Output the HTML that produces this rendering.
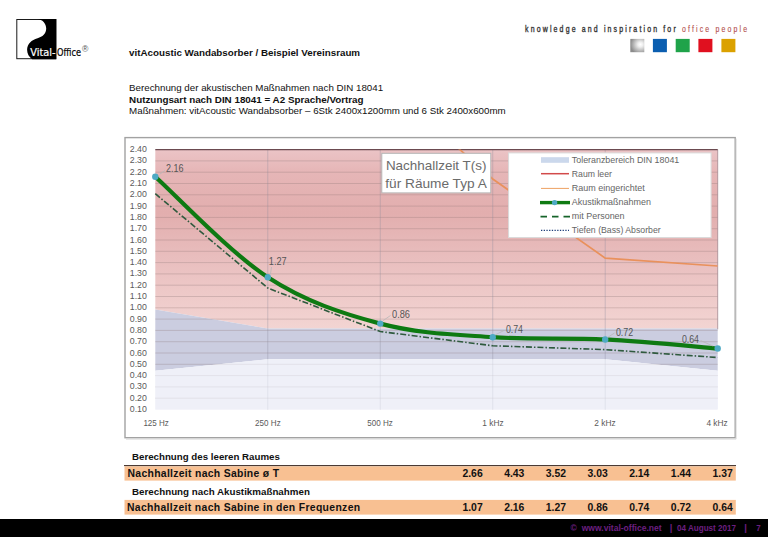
<!DOCTYPE html>
<html lang="de"><head><meta charset="utf-8"><title>vitAcoustic Wandabsorber / Beispiel Vereinsraum</title>
<style>
html,body{margin:0;padding:0;background:#fff;}
body{width:768px;height:543px;position:relative;overflow:hidden;}
svg{position:absolute;left:0;top:0;display:block;font-family:"Liberation Sans",sans-serif;}
</style></head><body>
<svg width="768" height="543" viewBox="0 0 768 543">
<g id="logo">
<rect x="16.8" y="19.5" width="39" height="39.2" fill="#fff" stroke="#1a1a1a" stroke-width="1"/>
<path d="M37.2,19 C42.5,19.4 46.2,23.5 46.2,28.6 C46.2,33.8 42.5,37 37.6,38.3 C31.5,40 27.2,44 27.1,49.8 C27.1,53.8 29,57 32.2,59.2 H56.3 V19 Z" fill="#000"/>
<text x="30.3" y="55.8" font-size="10.6" fill="#fff" textLength="25.3" lengthAdjust="spacingAndGlyphs" font-family="DejaVu Sans Condensed, DejaVu Sans, sans-serif" font-stretch="condensed" stroke="#fff" stroke-width="0.2">Vital-</text>
<text x="57.1" y="55.8" font-size="10.6" fill="#000" textLength="23.9" lengthAdjust="spacingAndGlyphs" font-family="DejaVu Sans Condensed, DejaVu Sans, sans-serif" font-stretch="condensed" stroke="#000" stroke-width="0.2">Office</text>
<text x="82" y="52.2" font-size="8.6" fill="#555">®</text>
</g>
<g transform="translate(525.1,0) scale(0.84,1)"><text x="0" y="31.8" font-size="8.3" fill="#333" stroke="#333" stroke-width="0.32" textLength="264.2" lengthAdjust="spacing">knowledge and inspiration for <tspan fill="#b04a48" stroke="#c06060" stroke-width="0.12">office people</tspan></text></g>
<defs><radialGradient id="silver" cx="0.72" cy="0.42" r="0.72"><stop offset="0" stop-color="#ffffff"/><stop offset="0.25" stop-color="#efefef"/><stop offset="1" stop-color="#8c8c8c"/></radialGradient></defs>
<rect x="630.3" y="38.9" width="14" height="13.3" fill="url(#silver)"/>
<rect x="652.9" y="38.9" width="14" height="13.3" fill="#0b5eb0"/>
<rect x="675.7" y="38.9" width="14" height="13.3" fill="#1fa34a"/>
<rect x="698.4" y="38.9" width="14" height="13.3" fill="#e0101f"/>
<rect x="721.4" y="38.9" width="14" height="13.3" fill="#dba100"/>
<text x="129.1" y="55.6" font-size="9.85" fill="#111" font-weight="bold" textLength="231" lengthAdjust="spacingAndGlyphs">vitAcoustic Wandabsorber / Beispiel Vereinsraum</text>
<text x="129.1" y="90.9" font-size="9.8" fill="#111" textLength="254" lengthAdjust="spacingAndGlyphs">Berechnung der akustischen Maßnahmen nach DIN 18041</text>
<text x="129.1" y="102.6" font-size="9.9" fill="#111" font-weight="bold" textLength="234.5" lengthAdjust="spacingAndGlyphs">Nutzungsart nach DIN 18041 = A2 Sprache/Vortrag</text>
<text x="129.1" y="114.4" font-size="9.8" fill="#111" textLength="376.6" lengthAdjust="spacingAndGlyphs">Maßnahmen: vitAcoustic Wandabsorber – 6Stk 2400x1200mm und 6 Stk 2400x600mm</text>
<defs>
<linearGradient id="pink" x1="0" y1="149.6" x2="0" y2="330.4" gradientUnits="userSpaceOnUse">
<stop offset="0" stop-color="#ebc4c6"/>
<stop offset="0.12" stop-color="#e6b6b7"/>
<stop offset="0.35" stop-color="#e2aeae"/>
<stop offset="0.62" stop-color="#e9bfbf"/>
<stop offset="1" stop-color="#f3d5d3"/>
</linearGradient>
<clipPath id="plot"><rect x="155.3" y="149.6" width="562.4" height="259.9"/></clipPath>
</defs>
<rect x="125" y="137.6" width="610.2" height="300.1" fill="#fff" stroke="#a2a2a2" stroke-width="1.4"/>
<path d="M126,439.1 H736.1 V138.6" fill="none" stroke="#d4d4d4" stroke-width="0.9"/>
<path d="M155.3,149.6 L717.7,149.6 L717.7,328.59 L605.22,328.59 L492.74,328.59 L380.26,328.59 L267.78,328.59 L155.3,309.38 Z" fill="url(#pink)"/>
<path d="M155.3,309.38 L267.78,328.59 L380.26,328.59 L492.74,328.59 L605.22,328.59 L717.7,328.59 L717.7,370.85 L605.22,359.33 L492.74,359.33 L380.26,359.33 L267.78,359.33 L155.3,370.85 Z" fill="#cbcde0"/>
<path d="M155.3,409.5 L155.3,370.85 L267.78,359.33 L380.26,359.33 L492.74,359.33 L605.22,359.33 L717.7,370.85 L717.7,409.5 Z" fill="#eff0f8"/>
<g stroke="#86706e" stroke-opacity="0.28" stroke-width="1"><line x1="155.3" x2="717.7" y1="398.2" y2="398.2"/><line x1="155.3" x2="717.7" y1="386.9" y2="386.9"/><line x1="155.3" x2="717.7" y1="375.6" y2="375.6"/><line x1="155.3" x2="717.7" y1="364.3" y2="364.3"/><line x1="155.3" x2="717.7" y1="353" y2="353"/><line x1="155.3" x2="717.7" y1="341.7" y2="341.7"/><line x1="155.3" x2="717.7" y1="330.4" y2="330.4"/><line x1="155.3" x2="717.7" y1="319.1" y2="319.1"/><line x1="155.3" x2="717.7" y1="307.8" y2="307.8"/><line x1="155.3" x2="717.7" y1="296.5" y2="296.5"/><line x1="155.3" x2="717.7" y1="285.2" y2="285.2"/><line x1="155.3" x2="717.7" y1="273.9" y2="273.9"/><line x1="155.3" x2="717.7" y1="262.6" y2="262.6"/><line x1="155.3" x2="717.7" y1="251.3" y2="251.3"/><line x1="155.3" x2="717.7" y1="240" y2="240"/><line x1="155.3" x2="717.7" y1="228.7" y2="228.7"/><line x1="155.3" x2="717.7" y1="217.4" y2="217.4"/><line x1="155.3" x2="717.7" y1="206.1" y2="206.1"/><line x1="155.3" x2="717.7" y1="194.8" y2="194.8"/><line x1="155.3" x2="717.7" y1="183.5" y2="183.5"/><line x1="155.3" x2="717.7" y1="172.2" y2="172.2"/><line x1="155.3" x2="717.7" y1="160.9" y2="160.9"/></g>
<g stroke="#8a8a9a" stroke-opacity="0.35" stroke-width="1"><line x1="267.78" x2="267.78" y1="149.6" y2="409.5"/><line x1="380.26" x2="380.26" y1="149.6" y2="409.5"/><line x1="492.74" x2="492.74" y1="149.6" y2="409.5"/><line x1="605.22" x2="605.22" y1="149.6" y2="409.5"/></g>
<path d="M155.3,409.5 L155.3,370.85 L267.78,359.33 L380.26,359.33 L492.74,359.33 L605.22,359.33 L717.7,370.85 L717.7,409.5 Z" fill="#eff0f8" fill-opacity="0.6"/>
<line x1="717.7" x2="717.7" y1="149.6" y2="329.27" stroke="#9a8088" stroke-width="0.9" stroke-opacity="0.8"/>
<line x1="155.3" x2="717.7" y1="149.6" y2="149.6" stroke="#6b4a50" stroke-width="1.3"/>
<g clip-path="url(#plot)"><polyline points="155.3,-79.79 267.78,23.04 380.26,78.41 492.74,178.98 605.22,258.08 717.7,265.99" fill="none" stroke="#e9915c" stroke-width="1.7"/></g>
<polyline points="155.3,193.67 267.78,288.02 380.26,331.53 492.74,345.77 605.22,349.61 717.7,357.52" fill="none" stroke="#2f5a3e" stroke-width="1.6" stroke-dasharray="6 2 1.5 2"/>
<path d="M155.3,176.72 C174.05,193.48 230.29,252.81 267.78,277.29 C305.27,301.77 342.77,313.64 380.26,323.62 C417.75,333.6 455.25,334.54 492.74,337.18 C530.23,339.82 567.73,337.56 605.22,339.44 C642.71,341.32 698.95,346.97 717.7,348.48" fill="none" stroke="#0e7a12" stroke-width="4.2" stroke-linecap="round"/>
<g fill="#4eaac4"><circle cx="155.3" cy="176.72" r="3.2"/><circle cx="267.78" cy="277.29" r="3.2"/><circle cx="380.26" cy="323.62" r="3.2"/><circle cx="492.74" cy="337.18" r="3.2"/><circle cx="605.22" cy="339.44" r="3.2"/><circle cx="717.7" cy="348.48" r="3.2"/></g>
<g font-size="9.2" fill="#5a5a5a" text-anchor="end"><text x="146.9" y="412" textLength="17.1" lengthAdjust="spacingAndGlyphs">0.10</text><text x="146.9" y="400.7" textLength="17.1" lengthAdjust="spacingAndGlyphs">0.20</text><text x="146.9" y="389.4" textLength="17.1" lengthAdjust="spacingAndGlyphs">0.30</text><text x="146.9" y="378.1" textLength="17.1" lengthAdjust="spacingAndGlyphs">0.40</text><text x="146.9" y="366.8" textLength="17.1" lengthAdjust="spacingAndGlyphs">0.50</text><text x="146.9" y="355.5" textLength="17.1" lengthAdjust="spacingAndGlyphs">0.60</text><text x="146.9" y="344.2" textLength="17.1" lengthAdjust="spacingAndGlyphs">0.70</text><text x="146.9" y="332.9" textLength="17.1" lengthAdjust="spacingAndGlyphs">0.80</text><text x="146.9" y="321.6" textLength="17.1" lengthAdjust="spacingAndGlyphs">0.90</text><text x="146.9" y="310.3" textLength="17.1" lengthAdjust="spacingAndGlyphs">1.00</text><text x="146.9" y="299" textLength="17.1" lengthAdjust="spacingAndGlyphs">1.10</text><text x="146.9" y="287.7" textLength="17.1" lengthAdjust="spacingAndGlyphs">1.20</text><text x="146.9" y="276.4" textLength="17.1" lengthAdjust="spacingAndGlyphs">1.30</text><text x="146.9" y="265.1" textLength="17.1" lengthAdjust="spacingAndGlyphs">1.40</text><text x="146.9" y="253.8" textLength="17.1" lengthAdjust="spacingAndGlyphs">1.50</text><text x="146.9" y="242.5" textLength="17.1" lengthAdjust="spacingAndGlyphs">1.60</text><text x="146.9" y="231.2" textLength="17.1" lengthAdjust="spacingAndGlyphs">1.70</text><text x="146.9" y="219.9" textLength="17.1" lengthAdjust="spacingAndGlyphs">1.80</text><text x="146.9" y="208.6" textLength="17.1" lengthAdjust="spacingAndGlyphs">1.90</text><text x="146.9" y="197.3" textLength="17.1" lengthAdjust="spacingAndGlyphs">2.00</text><text x="146.9" y="186" textLength="17.1" lengthAdjust="spacingAndGlyphs">2.10</text><text x="146.9" y="174.7" textLength="17.1" lengthAdjust="spacingAndGlyphs">2.20</text><text x="146.9" y="163.4" textLength="17.1" lengthAdjust="spacingAndGlyphs">2.30</text><text x="146.9" y="152.1" textLength="17.1" lengthAdjust="spacingAndGlyphs">2.40</text></g>
<g fill="#666"><text x="143.4" y="425.8" font-size="9.4" fill="#5a5a5a" textLength="25.5" lengthAdjust="spacingAndGlyphs">125 Hz</text><text x="255.1" y="425.8" font-size="9.4" fill="#5a5a5a" textLength="25.6" lengthAdjust="spacingAndGlyphs">250 Hz</text><text x="367.2" y="425.8" font-size="9.4" fill="#5a5a5a" textLength="25.6" lengthAdjust="spacingAndGlyphs">500 Hz</text><text x="482.3" y="425.8" font-size="9.4" fill="#5a5a5a" textLength="21.3" lengthAdjust="spacingAndGlyphs">1 kHz</text><text x="594.3" y="425.8" font-size="9.4" fill="#5a5a5a" textLength="21.3" lengthAdjust="spacingAndGlyphs">2 kHz</text><text x="706.4" y="425.8" font-size="9.4" fill="#5a5a5a" textLength="21.3" lengthAdjust="spacingAndGlyphs">4 kHz</text></g>
<text x="165.9" y="171.5" font-size="10.3" fill="#555" textLength="17.5" lengthAdjust="spacingAndGlyphs">2.16</text><text x="268.8" y="264.7" font-size="10.3" fill="#555" textLength="17.8" lengthAdjust="spacingAndGlyphs">1.27</text><text x="392" y="318.1" font-size="10.3" fill="#555" textLength="18" lengthAdjust="spacingAndGlyphs">0.86</text><text x="505.9" y="332.9" font-size="10.3" fill="#555" textLength="17.1" lengthAdjust="spacingAndGlyphs">0.74</text><text x="615.9" y="335.7" font-size="10.3" fill="#555" textLength="17.3" lengthAdjust="spacingAndGlyphs">0.72</text><text x="681.9" y="342.7" font-size="10.3" fill="#555" textLength="17.1" lengthAdjust="spacingAndGlyphs">0.64</text>
<g stroke="#b8b8b8" stroke-width="0.8" fill="none"><path d="M160,174 L165,170.5"/><path d="M270.5,274 L271.5,267"/><path d="M382.5,321 L390.5,315.5"/><path d="M495,335 L504,330.5"/><path d="M607.5,337.5 L614.5,333"/><path d="M700.5,340.5 L713,346"/></g>
<rect x="381.8" y="153.3" width="109" height="39.6" fill="#fff" stroke="#b4b4b4" stroke-width="1"/>
<text x="385.9" y="169.6" font-size="12.2" fill="#6b6b6b" textLength="100.6" lengthAdjust="spacingAndGlyphs">Nachhallzeit T(s)</text>
<text x="385.3" y="187.5" font-size="12.2" fill="#6b6b6b" textLength="101.5" lengthAdjust="spacingAndGlyphs">für Räume Typ A</text>
<rect x="508.6" y="152.9" width="202.5" height="84.6" fill="#fff" stroke="#dadada" stroke-width="1"/>
<rect x="541" y="157.2" width="28" height="5.6" fill="#cbd8ec"/>
<line x1="541" x2="569" y1="173.7" y2="173.7" stroke="#d24a4a" stroke-width="1.5"/>
<line x1="541" x2="569" y1="188.4" y2="188.4" stroke="#eea262" stroke-width="1"/>
<line x1="540" x2="570" y1="202.6" y2="202.6" stroke="#0e7a12" stroke-width="3.4"/>
<circle cx="554.6" cy="202.6" r="2.7" fill="#4eaac4"/>
<line x1="540.5" x2="570" y1="216.6" y2="216.6" stroke="#16642a" stroke-width="1.8" stroke-dasharray="6.5 5"/>
<line x1="541" x2="569" y1="230.3" y2="230.3" stroke="#1f3f7a" stroke-width="1.3" stroke-dasharray="1.3 1.4"/>
<text x="571.8" y="162.7" font-size="9.8" fill="#656565" textLength="107.5" lengthAdjust="spacingAndGlyphs">Toleranzbereich DIN 18041</text><text x="571.8" y="176.8" font-size="9.8" fill="#656565" textLength="40.1" lengthAdjust="spacingAndGlyphs">Raum leer</text><text x="571.8" y="190.9" font-size="9.8" fill="#656565" textLength="72.9" lengthAdjust="spacingAndGlyphs">Raum eingerichtet</text><text x="571.8" y="205" font-size="9.8" fill="#656565" textLength="79.1" lengthAdjust="spacingAndGlyphs">Akustikmaßnahmen</text><text x="571.8" y="219.1" font-size="9.8" fill="#656565" textLength="52.8" lengthAdjust="spacingAndGlyphs">mit Personen</text><text x="571.8" y="233.2" font-size="9.8" fill="#656565" textLength="88.9" lengthAdjust="spacingAndGlyphs">Tiefen (Bass) Absorber</text>
<text x="132" y="459.8" font-size="9.8" fill="#111" font-weight="bold" textLength="147.9" lengthAdjust="spacingAndGlyphs">Berechnung des leeren Raumes</text>
<rect x="124.5" y="466.3" width="611.3" height="14.3" fill="#f8c092"/>
<rect x="124" y="465" width="612" height="1.1" fill="#4a3a34"/>
<text x="127.5" y="476.8" font-size="10.4" fill="#111" font-weight="bold" textLength="151.5" lengthAdjust="spacing">Nachhallzeit nach Sabine ø T</text>
<text x="132" y="495.3" font-size="9.8" fill="#111" font-weight="bold" textLength="177.9" lengthAdjust="spacingAndGlyphs">Berechnung nach Akustikmaßnahmen</text>
<rect x="124.5" y="499.9" width="611.3" height="14.7" fill="#f8c092"/>
<text x="127" y="510.6" font-size="10.4" fill="#111" font-weight="bold" textLength="233.1" lengthAdjust="spacing">Nachhallzeit nach Sabine in den Frequenzen</text>
<text x="482.7" y="477" font-size="10.4" fill="#111" font-weight="bold" text-anchor="end">2.66</text>
<text x="482.7" y="510.8" font-size="10.4" fill="#111" font-weight="bold" text-anchor="end">1.07</text>
<text x="524.38" y="477" font-size="10.4" fill="#111" font-weight="bold" text-anchor="end">4.43</text>
<text x="524.38" y="510.8" font-size="10.4" fill="#111" font-weight="bold" text-anchor="end">2.16</text>
<text x="566.06" y="477" font-size="10.4" fill="#111" font-weight="bold" text-anchor="end">3.52</text>
<text x="566.06" y="510.8" font-size="10.4" fill="#111" font-weight="bold" text-anchor="end">1.27</text>
<text x="607.74" y="477" font-size="10.4" fill="#111" font-weight="bold" text-anchor="end">3.03</text>
<text x="607.74" y="510.8" font-size="10.4" fill="#111" font-weight="bold" text-anchor="end">0.86</text>
<text x="649.42" y="477" font-size="10.4" fill="#111" font-weight="bold" text-anchor="end">2.14</text>
<text x="649.42" y="510.8" font-size="10.4" fill="#111" font-weight="bold" text-anchor="end">0.74</text>
<text x="691.1" y="477" font-size="10.4" fill="#111" font-weight="bold" text-anchor="end">1.44</text>
<text x="691.1" y="510.8" font-size="10.4" fill="#111" font-weight="bold" text-anchor="end">0.72</text>
<text x="732.78" y="477" font-size="10.4" fill="#111" font-weight="bold" text-anchor="end">1.37</text>
<text x="732.78" y="510.8" font-size="10.4" fill="#111" font-weight="bold" text-anchor="end">0.64</text>
<rect x="0" y="519" width="768" height="18" fill="#000"/>
<text x="570.6" y="531.2" font-size="8.5" fill="#6c1f80" font-weight="bold">©</text>
<text x="581.7" y="531.2" font-size="9.4" fill="#6c1f80" font-weight="bold" textLength="79.9" lengthAdjust="spacingAndGlyphs">www.vital-office.net</text>
<text x="669.8" y="531.2" font-size="9.4" fill="#6c1f80" font-weight="bold">|</text>
<text x="677" y="531.2" font-size="9.4" fill="#6c1f80" font-weight="bold" textLength="59" lengthAdjust="spacingAndGlyphs">04 August 2017</text>
<text x="744.2" y="531.2" font-size="9.4" fill="#6c1f80" font-weight="bold">|</text>
<text x="756.3" y="531.2" font-size="9.4" fill="#6c1f80" font-weight="bold" textLength="4.4" lengthAdjust="spacingAndGlyphs">7</text>
</svg>
</body></html>
